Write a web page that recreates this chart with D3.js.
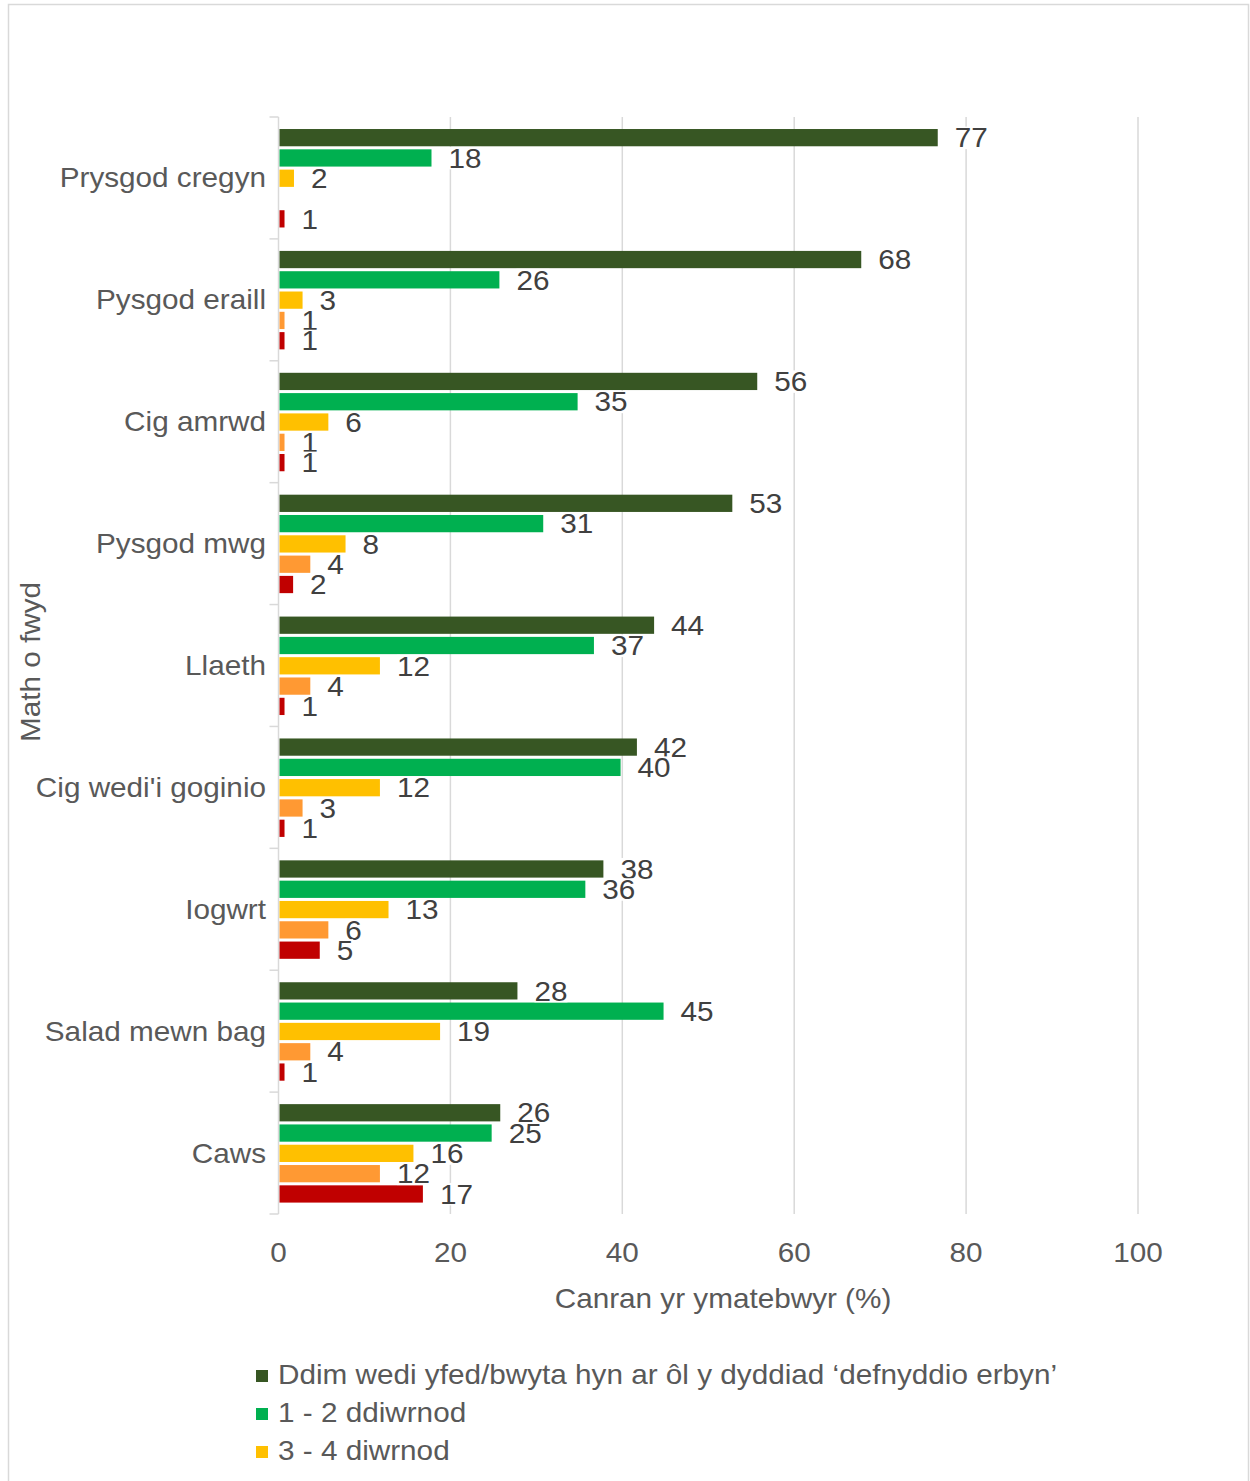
<!DOCTYPE html>
<html>
<head>
<meta charset="utf-8">
<script src="https://cdn.jsdelivr.net/npm/d3@7"></script>
<style>
  html, body { margin: 0; padding: 0; background: #fff; }
  svg { display: block; font-family: Arial, "Liberation Sans", sans-serif; }
</style>
</head>
<body>
<svg id="chart" width="1250" height="1481"></svg>
<script>
// categories, top to bottom
const categories = ["Prysgod cregyn", "Pysgod eraill", "Cig amrwd", "Pysgod mwg", "Llaeth",
  "Cig wedi'i goginio", "Iogwrt", "Salad mewn bag", "Caws"];

// series names (last two sit below the visible legend)
const seriesNames = ["Ddim wedi yfed/bwyta hyn ar ôl y dyddiad ‘defnyddio erbyn’",
  "1 - 2 ddiwrnod", "3 - 4 diwrnod", "5 - 6 diwrnod", "Wythnos neu fwy"];

// percentages, one array per series
const notUsed   = [76.7, 67.8, 55.7, 52.8, 43.7, 41.7, 37.8, 27.8, 25.8];
const days1to2  = [17.8, 25.7, 34.8, 30.8, 36.7, 39.8, 35.7, 44.8, 24.8];
const days3to4  = [1.8, 2.8, 5.8, 7.8, 11.8, 11.8, 12.8, 18.8, 15.7];
const days5to6  = [0, 0.7, 0.7, 3.7, 3.7, 2.8, 5.8, 3.7, 11.8];
const weekPlus  = [0.7, 0.7, 0.7, 1.7, 0.7, 0.7, 4.8, 0.7, 16.8];

const xTicks = [0, 20, 40, 60, 80, 100];
const colors = ["#375623", "#00b050", "#ffc000", "#ff9933", "#c00000"];

const seriesValues = [notUsed, days1to2, days3to4, days5to6, weekPlus];

const svg = d3.select("#chart");
const W = 1250, H = 1481;
const textCol = "#404040";
const axisText = "#595959";
const gridCol = "#d9d9d9";
const stretch = 1.1; // the source text is a little wide

// place a text at (px,py), widened horizontally like the source
function place(px, py, rot) {
  return `translate(${px},${py})` + (rot ? ` rotate(${rot})` : "") + ` scale(${stretch},1)`;
}

// outer frame
svg.append("rect")
  .attr("x", 8.5).attr("y", 4.5)
  .attr("width", 1240).attr("height", H + 20)
  .attr("fill", "none").attr("stroke", gridCol).attr("stroke-width", 1.5);

const plot = { left: 278.5, right: 1138, top: 117, bottom: 1214 };

const x = d3.scaleLinear().domain([0, 100]).range([plot.left, plot.right]);
const y = d3.scaleBand().domain(categories).range([plot.top, plot.bottom]);
const yInner = d3.scaleBand().domain(d3.range(seriesNames.length))
  .range([10.5, 112]).paddingInner(0.15).paddingOuter(0.075);

// gridlines
svg.append("g").selectAll("line")
  .data(xTicks.filter(t => t > 0))
  .join("line")
  .attr("x1", d => x(d)).attr("x2", d => x(d))
  .attr("y1", plot.top).attr("y2", plot.bottom)
  .attr("stroke", gridCol).attr("stroke-width", 1.5);

// x tick labels
svg.append("g").selectAll("text")
  .data(xTicks)
  .join("text")
  .attr("transform", d => place(x(d), 1262))
  .attr("text-anchor", "middle")
  .attr("font-size", 27).attr("fill", axisText)
  .text(d => d);

// y axis line and category ticks
svg.append("line")
  .attr("x1", plot.left).attr("x2", plot.left)
  .attr("y1", plot.top).attr("y2", plot.bottom)
  .attr("stroke", gridCol).attr("stroke-width", 1.5);
const boundaries = categories.map(c => y(c)).concat([plot.bottom]);
svg.append("g").selectAll("line")
  .data(boundaries)
  .join("line")
  .attr("x1", plot.left - 9).attr("x2", plot.left)
  .attr("y1", d => d).attr("y2", d => d)
  .attr("stroke", gridCol).attr("stroke-width", 1.5);

// category labels
svg.append("g").selectAll("text")
  .data(categories)
  .join("text")
  .attr("transform", d => place(266, y(d) + y.bandwidth() / 2))
  .attr("dy", "0.35em")
  .attr("text-anchor", "end")
  .attr("font-size", 27).attr("fill", axisText)
  .text(d => d);

// bars
const barData = [];
seriesValues.forEach((vals, s) => {
  vals.forEach((v, i) => barData.push({ s, cat: categories[i], v }));
});

svg.append("g").selectAll("rect")
  .data(barData.filter(d => d.v > 0))
  .join("rect")
  .attr("x", x(0) + 1)
  .attr("y", d => y(d.cat) + yInner(d.s))
  .attr("width", d => Math.max(0, x(d.v) - x(0) - 1))
  .attr("height", yInner.bandwidth())
  .attr("fill", d => colors[d.s]);

// value labels with white boxes (drawn series by series)
const labels = svg.append("g");
barData.filter(d => Math.round(d.v) > 0).forEach(d => {
  const g = labels.append("g")
    .attr("transform", place(x(d.v) + 17, y(d.cat) + yInner(d.s) + yInner.bandwidth() / 2));
  const t = g.append("text")
    .attr("dy", "0.36em")
    .attr("font-size", 27).attr("fill", textCol)
    .text(Math.round(d.v));
  const bb = t.node().getBBox();
  g.insert("rect", "text")
    .attr("x", bb.x).attr("y", bb.y + 4)
    .attr("width", bb.width).attr("height", bb.height - 8)
    .attr("fill", "#fff");
});

// axis titles
svg.append("text")
  .attr("transform", place(723, 1308))
  .attr("text-anchor", "middle")
  .attr("font-size", 27).attr("fill", axisText)
  .text("Canran yr ymatebwyr (%)");

svg.append("text")
  .attr("transform", place(40, 662, -90))
  .attr("text-anchor", "middle")
  .attr("font-size", 27).attr("fill", axisText)
  .text("Math o fwyd");

// legend (only the rows that fit on the page)
const legend = svg.append("g");
seriesNames.forEach((name, i) => {
  const cy = 1375 + i * 38;
  if (cy > H - 10) return;
  legend.append("rect")
    .attr("x", 256).attr("y", cy - 5)
    .attr("width", 12).attr("height", 12)
    .attr("fill", colors[i]);
  legend.append("text")
    .attr("transform", place(278, cy))
    .attr("dy", "0.35em")
    .attr("font-size", 27).attr("fill", axisText)
    .text(name);
});
</script>
</body>
</html>
